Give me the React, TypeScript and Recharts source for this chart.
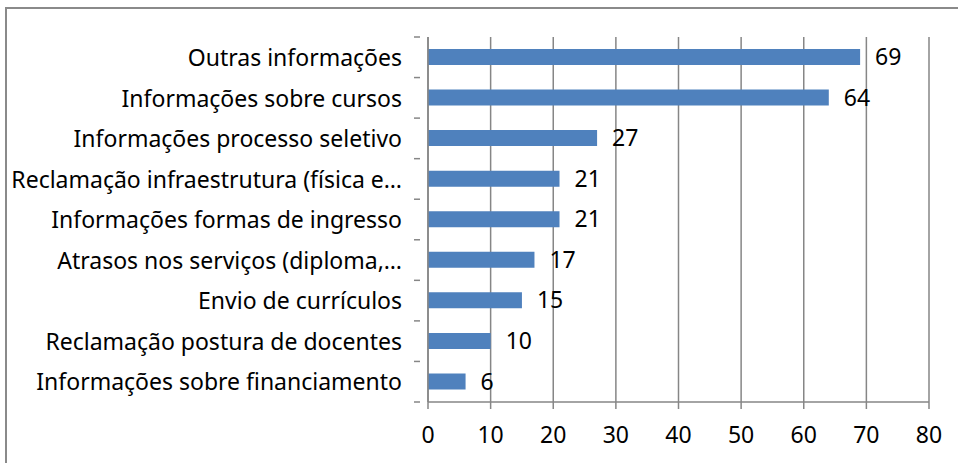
import React from "react";
import { BarChart, Bar, XAxis, YAxis, CartesianGrid, LabelList } from "recharts";

const categories = [
  "Outras informações",
  "Informações sobre cursos",
  "Informações processo seletivo",
  "Reclamação infraestrutura (física e…",
  "Informações formas de ingresso",
  "Atrasos nos serviços (diploma,…",
  "Envio de currículos",
  "Reclamação postura de docentes",
  "Informações sobre financiamento",
];
const values = [69, 64, 27, 21, 21, 17, 15, 10, 6];
const xTicks = [0, 10, 20, 30, 40, 50, 60, 70, 80];

const data = categories.map((name, i) => ({ name, value: values[i] }));

const FONT = "'Noto Sans', sans-serif";
const FS = 23;
const GRID = "#868686";
const TOP = 37;
const BOTTOM = 402;
const BAND = (BOTTOM - TOP) / categories.length;

const CategoryTick = (props: any) => {
  const { x, y, payload, index } = props;
  const isLast = index === categories.length - 1;
  return (
    <g>
      <line x1={x - 6} x2={x} y1={y - BAND / 2} y2={y - BAND / 2} stroke={GRID} strokeWidth={1.5} />
      {isLast && (
        <line x1={x - 6} x2={x} y1={y + BAND / 2} y2={y + BAND / 2} stroke={GRID} strokeWidth={1.5} />
      )}
      <text x={x - 18} y={y} dy="0.38em" textAnchor="end" fill="#000" fontSize={FS} fontFamily={FONT}>
        {payload.value}
      </text>
    </g>
  );
};

export default function App() {
  return (
    <div style={{ position: "absolute", left: 0, top: 0, width: 958, height: 463, overflow: "hidden", background: "#fff" }}>
      <div
        style={{
          position: "absolute",
          left: 5,
          top: 7,
          width: 1000,
          height: 500,
          border: "2px solid #8a8a8a",
          boxSizing: "border-box",
        }}
      />
      <div style={{ position: "absolute", left: 0, top: 0 }}>
        <BarChart
          width={958}
          height={463}
          data={data}
          layout="vertical"
          margin={{ top: TOP, bottom: 0, left: 0, right: 29 }}
          barCategoryGap={0}
        >
          <CartesianGrid horizontal={false} stroke={GRID} strokeWidth={1.5} />
          <XAxis
            type="number"
            domain={[0, 80]}
            ticks={xTicks}
            interval={0}
            axisLine={{ stroke: GRID, strokeWidth: 1.5 }}
            tickLine={{ stroke: GRID, strokeWidth: 1.5 }}
            tickSize={7}
            tickMargin={18}
            tick={{ fill: "#000", fontSize: FS, fontFamily: FONT }}
            height={463 - BOTTOM}
          />
          <YAxis
            type="category"
            dataKey="name"
            width={428}
            interval={0}
            axisLine={{ stroke: GRID, strokeWidth: 1.5 }}
            tickLine={false}
            tick={<CategoryTick />}
          />
          <Bar dataKey="value" fill="#4F81BD" barSize={16} isAnimationActive={false}>
            <LabelList dataKey="value" position="right" offset={15} fill="#000" fontSize={FS} fontFamily={FONT} />
          </Bar>
        </BarChart>
      </div>
    </div>
  );
}
